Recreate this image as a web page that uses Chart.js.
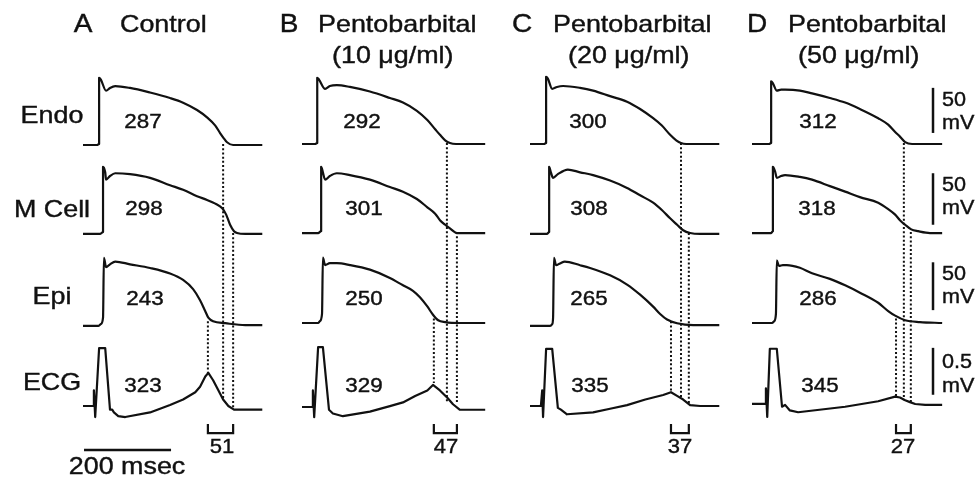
<!DOCTYPE html>
<html>
<head>
<meta charset="utf-8">
<script src="https://cdn.jsdelivr.net/npm/chart.js@4/dist/chart.umd.min.js"></script>
<style>
  body { margin: 0; background: #fff; }
  #wrap { width: 979px; height: 483px; }
</style>
</head>
<body>
<div id="wrap"><canvas id="myChart" width="979" height="483"></canvas></div>
<script>
// traces: time in ms from start of sweep, voltage in mV above the resting baseline
// (ECG in mV, drawn with 100x gain so 0.5 mV matches the 50 mV bar)

// A  Control
const tEndoA = [0,32,37,37,41,53,62,74,108,154,200,230,262,285,304,315,324,331,345,412];
const vEndoA = [0,0,1,73,71,59,62,64,62,57,51,46,38,30,21,13,7,3,0,0];
const tMA = [0,39,46,46,51,53,62,74,108,154,200,230,262,285,304,320,329,338,347,354,373,412];
const vMA = [0,0,2,73,67,59,63,66,65,61,53,48,41,37,33,28,21,10,3,1,0,0];
const tEpiA = [0,35,41,46,48,53,62,74,108,154,200,230,253,269,281,288,299,327,373,412];
const vEpiA = [0,0,2,9,74,64,67,70,67,63,57,50,40,28,16,9,5,3,1,1];
const tEcgA = [0,23,25,28,37,51,62,67,71,81,97,154,200,230,258,269,281,288,299,311,322,334,347,373,412];
const vEcgA = [0,0,0.17,-0.12,0.63,0.63,-0.04,-0.04,-0.07,-0.11,-0.12,-0.07,0.01,0.07,0.15,0.21,0.32,0.36,0.28,0.17,0.07,0,-0.04,-0.04,-0.04];

// B  Pentobarbital 10 ug/ml
const tEndoB = [0,30,35,35,39,53,64,80,110,156,202,232,264,288,306,317,329,340,354,421];
const vEndoB = [0,0,1,72,70,60,63,64,62,57,50,45,36,26,16,10,4,1,0,0];
const tMB = [0,37,44,44,48,53,64,80,110,156,202,232,264,288,306,317,329,340,356,421];
const vMB = [0,0,2,72,66,58,62,65,63,58,50,45,37,28,21,14,9,5,0,0];
const tEpiB = [0,37,41,46,48,53,64,80,110,156,202,232,255,271,288,301,313,329,363,421];
const vEpiB = [0,0,2,10,71,63,65,65,63,58,49,41,35,28,18,9,3,1,0,0];
const tEcgB = [0,23,25,28,37,48,62,71,94,156,202,232,260,288,301,317,334,347,363,386,421];
const vEcgB = [0,0,0.18,-0.11,0.65,0.65,-0.03,-0.07,-0.10,-0.05,0.01,0.05,0.12,0.18,0.24,0.18,0.10,0.03,-0.03,-0.03,-0.03];

// C  Pentobarbital 20 ug/ml
const tEndoC = [0,32,37,37,41,51,62,76,115,145,184,223,253,283,303,322,336,347,359,435];
const vEndoC = [0,0,1,73,71,60,62,63,61,58,52,46,38,28,20,10,4,1,0,0];
const tMC = [0,39,44,44,48,53,64,87,115,145,184,223,253,283,303,322,338,352,368,391,435];
const vMC = [0,0,2,73,67,61,65,70,67,64,58,50,42,34,26,17,10,4,1,0,0];
const tEpiC = [0,46,51,53,55,60,69,80,115,138,184,223,253,283,299,315,338,375,435];
const vEpiC = [0,0,2,9,74,66,68,70,66,63,55,45,34,21,13,7,3,1,1];
const tEcgC = [0,25,28,30,37,51,64,71,85,145,184,223,265,306,324,338,352,368,391,435];
const vEcgC = [0,0,0.17,-0.12,0.62,0.62,-0.02,-0.04,-0.09,-0.07,-0.03,0.01,0.07,0.12,0.15,0.11,0.07,0.01,0,0];

// D  Pentobarbital 50 ug/ml
const tEndoD = [0,39,44,44,48,57,67,76,110,138,179,214,248,290,313,329,340,352,368,437];
const vEndoD = [0,0,1,68,66,58,59,59,58,55,50,45,38,28,21,13,8,2,0,0];
const tMD = [0,44,48,48,53,57,67,76,110,138,179,214,248,290,313,329,340,352,366,382,409,437];
const vMD = [0,0,2,72,67,60,62,63,61,58,51,45,39,33,26,20,14,9,4,2,0,0];
const tEpiD = [0,46,51,55,57,62,71,80,110,138,179,214,248,290,313,329,352,386,437];
const vEpiD = [0,0,2,10,68,62,63,63,60,54,48,41,33,22,13,8,3,1,0];
const tEcgD = [0,30,32,35,41,57,69,76,87,106,214,290,329,340,352,363,375,398,437];
const vEcgD = [0,0,0.17,-0.14,0.60,0.60,-0.03,-0.01,-0.07,-0.09,-0.03,0.03,0.08,0.07,0.04,0.02,0,-0.01,-0.01];

// end of repolarization (ms) for Endo, M Cell, Epi, and the ECG level (mV) where the dotted line lands
const repolA = [322, 345, 287];
const repolB = [333, 356, 303];
const repolC = [347, 365, 324];
const repolD = [349, 365, 331];
const ecgAtA = [0.07, -0.03, 0.36];
const ecgAtB = [0.05, 0.04, 0.26];
const ecgAtC = [0.09, 0.03, 0.14];
const ecgAtD = [0.04, 0.01, 0.08];

const panelTitles = ['Control', 'Pentobarbital', 'Pentobarbital', 'Pentobarbital'];
const panelDoses = ['', '(10 \u03bcg/ml)', '(20 \u03bcg/ml)', '(50 \u03bcg/ml)'];
const rowNames = ['Endo', 'M Cell', 'Epi', 'ECG'];
const apdA = ['287', '298', '243', '323'];
const apdB = ['292', '301', '250', '329'];
const apdC = ['300', '308', '265', '335'];
const apdD = ['312', '318', '286', '345'];
const twoR = ['51', '47', '37', '27'];

// figure layout (axis units: ms across, mV down the page)
const X_MAX = 2250, Y_MIN = -525, ECG_GAIN = 100;
const panelStart = [190.8, 694.1, 1218.1, 1728.3];
const rowBase = [
  [-157.6, -254.3, -354.3, -441.3],
  [-156.5, -253.3, -351.1, -442.4],
  [-156.5, -254.3, -354.3, -441.3],
  [-156.5, -253.3, -351.1, -439.1]
];
const dotTop = [1, 1, 5];
const bracketTop = -460.9, bracketBottom = -470.7;
const timeBar = [193.1, 393.1, -489.1];
const scaleBarX = 2144.3;
const scaleBars = [[12, 61], [9, 65], [14, 66], [0.10, 0.61]];

const traces = [
  [[tEndoA, vEndoA], [tMA, vMA], [tEpiA, vEpiA], [tEcgA, vEcgA]],
  [[tEndoB, vEndoB], [tMB, vMB], [tEpiB, vEpiB], [tEcgB, vEcgB]],
  [[tEndoC, vEndoC], [tMC, vMC], [tEpiC, vEpiC], [tEcgC, vEcgC]],
  [[tEndoD, vEndoD], [tMD, vMD], [tEpiD, vEpiD], [tEcgD, vEcgD]]
];
const repol = [repolA, repolB, repolC, repolD];
const ecgAt = [ecgAtA, ecgAtB, ecgAtC, ecgAtD];
const apd = [apdA, apdB, apdC, apdD];

const datasets = [];
function addLine(points, extra) {
  datasets.push(Object.assign({
    data: points, showLine: true, borderColor: '#111', borderWidth: 2.2,
    pointRadius: 0, tension: 0, fill: false, borderJoinStyle: 'round'
  }, extra || {}));
}

for (let p = 0; p < 4; p++) {
  for (let r = 0; r < 4; r++) {
    const [t, v] = traces[p][r];
    const isEcg = r === 3;
    const gain = isEcg ? ECG_GAIN : 1;
    addLine(t.map((ti, i) => ({ x: panelStart[p] + ti, y: rowBase[p][r] + v[i] * gain })),
      isEcg ? {} : { cubicInterpolationMode: 'monotone' });
  }
  for (let r = 0; r < 3; r++) {
    const x = panelStart[p] + repol[p][r];
    addLine([{ x, y: rowBase[p][r] + dotTop[r] }, { x, y: rowBase[p][3] + ecgAt[p][r] * ECG_GAIN }],
      { borderDash: [2, 2.2], borderWidth: 2 });
  }
  const x1 = panelStart[p] + repol[p][2], x2 = panelStart[p] + repol[p][1];
  addLine([{ x: x1, y: bracketTop }, { x: x1, y: bracketBottom }, { x: x2, y: bracketBottom }, { x: x2, y: bracketTop }],
    { borderJoinStyle: 'miter' });
}
addLine([{ x: timeBar[0], y: timeBar[2] }, { x: timeBar[1], y: timeBar[2] }], { borderWidth: 2.5 });
for (let r = 0; r < 4; r++) {
  const gain = r === 3 ? ECG_GAIN : 1;
  addLine([{ x: scaleBarX, y: rowBase[3][r] + scaleBars[r][0] * gain }, { x: scaleBarX, y: rowBase[3][r] + scaleBars[r][1] * gain }],
    { borderWidth: 2.5 });
}

// text, in pixels of the 979x483 figure
const labels = [];
const titleLetterX = [83, 289, 522, 757];
const titleLeft = [120, 318, 553, 788];
const doseLeft = [0, 332, 568, 798];
'ABCD'.split('').forEach((L, p) => {
  labels.push({ text: L, x: titleLetterX[p], y: 32, size: 25, align: 'center' });
  labels.push({ text: panelTitles[p], x: titleLeft[p], y: 32, size: 24, align: 'left' });
  if (panelDoses[p]) labels.push({ text: panelDoses[p], x: doseLeft[p], y: 63, size: 24, align: 'left' });
});
const rowTextY = [123, 217, 304, 390];
rowNames.forEach((n, r) => labels.push({ text: n, x: 52, y: rowTextY[r], size: 24, align: 'center' }));
const apdX = [[143, 144, 145, 143], [362, 364, 364, 364], [588, 589, 589, 590], [818, 817, 818, 820]];
const apdY = [128, 215, 305, 392];
apd.forEach((col, p) => col.forEach((s, r) => labels.push({ text: s, x: apdX[p][r], y: apdY[r], size: 20, align: 'center' })));
const twoRX = [222, 446, 680, 903];
twoR.forEach((s, p) => labels.push({ text: s, x: twoRX[p], y: 453, size: 21, align: 'center', sx: 1.05 }));
labels.push({ text: '200 msec', x: 127, y: 474, size: 24, align: 'center' });
const scaleText = [['50', 106], ['mV', 129], ['50', 191], ['mV', 214], ['50', 280], ['mV', 303], ['0.5', 368], ['mV', 392]];
scaleText.forEach(([s, y]) => labels.push({ text: s, x: 942, y, size: 20, align: 'left', sx: 1.08 }));

const textPlugin = {
  id: 'figureText',
  afterDraw(chart) {
    const ctx = chart.ctx;
    ctx.save();
    ctx.fillStyle = '#111';
    ctx.strokeStyle = '#111';
    ctx.lineWidth = 0.4;
    ctx.textBaseline = 'alphabetic';
    for (const lb of labels) {
      ctx.save();
      ctx.font = lb.size + 'px "Liberation Sans", Arial, sans-serif';
      ctx.textAlign = lb.align;
      ctx.translate(lb.x, lb.y);
      ctx.scale(lb.sx || 1.12, 1);
      ctx.fillText(lb.text, 0, 0);
      ctx.strokeText(lb.text, 0, 0);
      ctx.restore();
    }
    ctx.restore();
  }
};

new Chart(document.getElementById('myChart'), {
  type: 'scatter',
  data: { datasets },
  options: {
    responsive: false,
    animation: false,
    devicePixelRatio: 1,
    events: [],
    layout: { padding: 0 },
    plugins: { legend: { display: false }, tooltip: { enabled: false } },
    scales: {
      x: { type: 'linear', min: 0, max: X_MAX, display: false },
      y: { type: 'linear', min: Y_MIN, max: 0, display: false }
    }
  },
  plugins: [textPlugin]
});
</script>
</body>
</html>
